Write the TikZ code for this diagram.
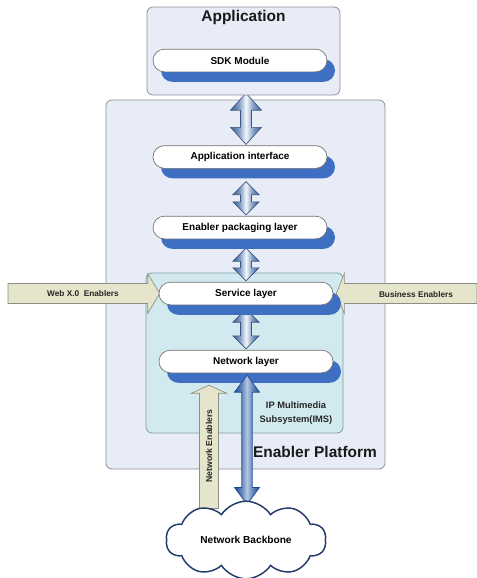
\documentclass[tikz,border=0pt]{standalone}
\usepackage{fontspec}
\setmainfont{Liberation Sans}
\usetikzlibrary{calc,fit,shadows,shapes.symbols}

\definecolor{panelfill}{HTML}{E8ECF6}
\definecolor{panelline}{HTML}{8C8F96}
\definecolor{imsfill}{HTML}{D2EAEF}
\definecolor{imsline}{HTML}{7E9CA4}
\definecolor{pillline}{HTML}{707070}
\definecolor{pillshadow}{HTML}{3F6FC3}
\definecolor{linkedge}{HTML}{3D5E94}
\definecolor{linkmid}{HTML}{7F9BC4}
\definecolor{linklight}{HTML}{F4F7FB}
\definecolor{linkline}{HTML}{3A5580}
\definecolor{trunkedge}{HTML}{1F4C8F}
\definecolor{trunkmid}{HTML}{5C80B8}
\definecolor{trunklight}{HTML}{B4C6E2}
\definecolor{enablerfill}{HTML}{E4E5CB}
\definecolor{enablerline}{HTML}{8E8E84}
\definecolor{cloudline}{HTML}{223B6C}

\pgfdeclarehorizontalshading{linkshade}{100bp}{color(0bp)=(linkedge); color(25bp)=(linkedge);
  color(38bp)=(linkmid); color(50bp)=(linklight); color(62bp)=(linkmid);
  color(75bp)=(linkedge); color(100bp)=(linkedge)}
\pgfdeclarehorizontalshading{trunkshade}{100bp}{color(0bp)=(trunkedge); color(25bp)=(trunkedge);
  color(38bp)=(trunkmid); color(50bp)=(trunklight); color(62bp)=(trunkmid);
  color(75bp)=(trunkedge); color(100bp)=(trunkedge)}

\pgfdeclarelayer{panels}
\pgfdeclarelayer{links}
\pgfdeclarelayer{front}
\pgfsetlayers{panels,links,main,front}

% vertical double-headed block arrow:
% #1 style, #2 upper tip, #3 lower tip, #4 head half width, #5 shaft half width, #6 head length
\newcommand\layerlink[6]{%
  \path[#1] let \p1=(#2), \p2=(#3) in
    (\x1,\y1) -- (\x1+#4,\y1-#6) -- (\x1+#5,\y1-#6) -- (\x1+#5,\y2+#6) -- (\x1+#4,\y2+#6)
    -- (\x1,\y2) -- (\x1-#4,\y2+#6) -- (\x1-#5,\y2+#6) -- (\x1-#5,\y1-#6) -- (\x1-#4,\y1-#6) -- cycle;}

\tikzset{
  panel/.style={draw=panelline, fill=panelfill, rounded corners=4.5pt, line width=0.6pt, inner sep=0pt},
  imsbox/.style={draw=imsline, fill=imsfill, rounded corners=4.5pt, line width=0.6pt, inner sep=0pt},
  tier/.style={draw=pillline, fill=white, rounded corners=8.5pt, line width=0.5pt,
    minimum width=130.5pt, minimum height=17pt, inner sep=0pt,
    font=\bfseries\fontsize{7.5}{9}\selectfont,
    general shadow={shadow xshift=6pt, shadow yshift=-7.5pt, fill=pillshadow}},
  link/.style={shading=linkshade, draw=linkline, line width=0.5pt},
  trunk/.style={shading=trunkshade, draw=trunkedge, line width=0.5pt},
  enabler/.style={fill=enablerfill, draw=enablerline, line width=0.5pt},
  enablertext/.style={font=\bfseries\fontsize{6.2}{7}\selectfont, text=black!85},
  heading/.style={font=\bfseries\fontsize{11.6}{14}\selectfont, text=black!90},
}

\begin{document}
\begin{tikzpicture}[x=0.75pt,y=-0.75pt]
\useasboundingbox (0,0) rectangle (476,578);

% protocol layers
\node[tier] (sdk)    at (240,60.5)  {SDK Module};
\node[tier] (appif)  at (240,157)   {Application interface};
\node[tier] (enpack) at (240,227.5) {Enabler packaging layer};
\node[tier] (svc)    at (246,293.5) {Service layer};
\node[tier] (net)    at (246,361.5) {Network layer};

% containers
\begin{pgfonlayer}{panels}
  \node[panel, fit={(106,100) (385,469)}] (platform) {};
  \node[imsbox, fit={(146,273) (343,433)}] (ims) {};
\end{pgfonlayer}

\begin{pgfonlayer}{links}
  \layerlink{link}{[shift={(6,21)}]sdk.south}{[shift={(6,-1)}]appif.north}{11.6pt}{4.1pt}{12.75pt}
  \layerlink{link}{[shift={(6,13)}]appif.south}{[shift={(6,-1)}]enpack.north}{9.75pt}{4.1pt}{9.75pt}
  \layerlink{link}{[shift={(6,9)}]enpack.south}{[shift={(0,-1)}]svc.north}{9.75pt}{4.1pt}{9.75pt}
  \layerlink{link}{[shift={(0,4)}]svc.south}{[shift={(0,-1)}]net.north}{9.75pt}{4.1pt}{9.75pt}

  \node[panel, fit={(147,7) (340,95)}] (app) {};
  \node[heading] (apptitle) at (243.5,18) {Application};

  % enablers entering the service layer from both sides
  \coordinate (webtail) at (8,294);
  \coordinate (bustail) at (477,294);
  \path[enabler] let \p1=(webtail), \p2=([xshift=0.75pt]svc.west) in
    (\x1,\y2+7.5pt) -- (\x2-9pt,\y2+7.5pt) -- (\x2-9pt,\y2+15pt) -- (\x2,\y2)
    -- (\x2-9pt,\y2-15pt) -- (\x2-9pt,\y2-7.5pt) -- (\x1,\y2-7.5pt) -- cycle;
  \path[enabler] let \p1=(bustail), \p2=([xshift=2.25pt]svc.east) in
    (\x1,\y2+7.5pt) -- (\x2+6pt,\y2+7.5pt) -- (\x2+6pt,\y2+15pt) -- (\x2,\y2)
    -- (\x2+6pt,\y2-15pt) -- (\x2+6pt,\y2-7.5pt) -- (\x1,\y2-7.5pt) -- cycle;
\end{pgfonlayer}

\node[enablertext] (weblabel) at (83,294) {Web X.0~ Enablers};
\node[enablertext] (buslabel) at (416,295) {Business Enablers};

\node[font=\bfseries\fontsize{7}{10.5}\selectfont, align=center, text=black!85] (imslabel)
  at (296,413) {IP Multimedia\\Subsystem(IMS)};
\node[heading] (platformlabel) at (315,452) {Enabler Platform};

% network backbone
\begin{pgfonlayer}{front}
  \node[cloud, cloud puffs=10, cloud puff arc=115, aspect=2.2, draw=cloudline, line width=1.1pt,
    fill=white, minimum width=120pt, minimum height=57pt, inner sep=0pt,
    font=\bfseries\fontsize{7.6}{9}\selectfont] (backbone) at (246,540) {Network Backbone};
\end{pgfonlayer}

\layerlink{trunk}{[shift={(1,2)}]net.south}{[shift={(1,4)}]backbone.north}{9.4pt}{3.9pt}{12.75pt}

% network enablers rising from the backbone
\path[enabler] let \p1=([shift={(-37,8)}]backbone.north), \p2=([shift={(-37,12)}]net.south) in
  (\x2-7.1pt,\y1) -- (\x2-7.1pt,\y2-6pt) -- (\x2-13.1pt,\y2-6pt) -- (\x2,\y2)
  -- (\x2+13.1pt,\y2-6pt) -- (\x2+7.1pt,\y2-6pt) -- (\x2+7.1pt,\y1) -- cycle;
\node[enablertext, rotate=90, font=\bfseries\fontsize{6.5}{7}\selectfont] (nelabel)
  at (209,446) {Network Enablers};
\end{tikzpicture}
\end{document}
